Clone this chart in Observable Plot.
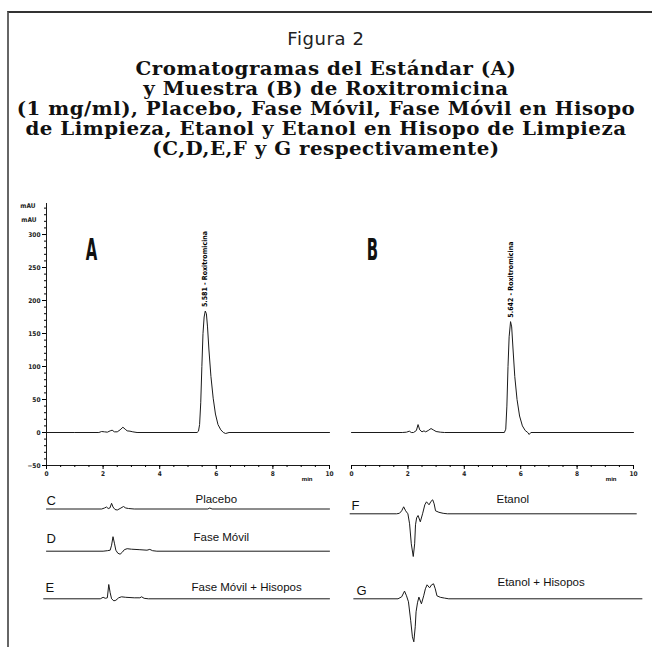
<!DOCTYPE html>
<html><head><meta charset="utf-8">
<script src="https://cdn.jsdelivr.net/npm/d3@7"></script>
<script src="https://cdn.jsdelivr.net/npm/@observablehq/plot@0.6"></script>
<style>
body{margin:0;background:#fff;}
#fig{position:relative;width:652px;height:647px;overflow:hidden;background:#fff;}
.frame{position:absolute;left:7px;top:11px;width:700px;height:700px;border-top:2px solid #333;border-left:2px solid #666;}
#title{position:absolute;left:0;top:27px;width:652px;text-align:center;font-family:"DejaVu Serif",serif;color:#111;}
#title .fig{font-size:18px;letter-spacing:0.6px;line-height:24px;font-family:"DejaVu Sans","Open Sans",sans-serif;font-weight:normal;color:#222;}
#title .main{font-weight:bold;font-size:18px;letter-spacing:0.45px;line-height:20px;margin-top:8px;transform:scaleX(1.1);transform-origin:50% 50%;}
.panel{position:absolute;line-height:0;}
.panel svg{overflow:visible;}
</style></head>
<body>
<div id="fig">
  <div class="frame"></div>
  <div id="title">
    <div class="fig">Figura 2</div>
    <div class="main">Cromatogramas del Estándar (A)<br>y Muestra (B) de Roxitromicina<br>(1 mg/ml), Placebo, Fase Móvil, Fase Móvil en Hisopo<br>de Limpieza, Etanol y Etanol en Hisopo de Limpieza<br>(C,D,E,F y G respectivamente)</div>
  </div>
</div>
<script>
// ---- Data: chromatograms [time (min), signal (mAU)] ----
const standardA = [[0,0],[1.0,0],[1.85,0],[1.95,1.5],[2.05,1],[2.15,0.5],[2.25,2.5],[2.32,3.5],[2.4,1],[2.5,1],[2.6,4],[2.7,8],[2.78,5],[2.85,2.5],[2.95,2],[3.05,1],[3.2,0],[5.32,0],[5.37,2],[5.41,12],[5.45,45],[5.49,100],[5.53,150],[5.57,175],[5.61,184],[5.65,180],[5.69,160],[5.74,125],[5.81,85],[5.89,52],[5.97,28],[6.06,12],[6.16,4],[6.25,0],[6.33,-1.5],[6.45,0],[10,0]];
const sampleB = [[0,0],[1.8,0],[1.95,0.5],[2.05,2],[2.12,0],[2.2,0],[2.3,3],[2.36,12],[2.42,4],[2.5,1],[2.57,2.5],[2.63,1],[2.72,3],[2.82,6],[2.9,4],[3.0,1.5],[3.15,0.5],[3.3,0],[5.42,0],[5.47,5],[5.51,40],[5.55,100],[5.59,145],[5.64,168],[5.68,160],[5.73,125],[5.79,85],[5.87,50],[5.96,25],[6.06,10],[6.16,3],[6.25,0],[6.3,-3],[6.36,0],[10,0]];
const peakA = [{t:5.581, v:184, label:"5.581 - Roxitromicina"}];
const peakB = [{t:5.642, v:168, label:"5.642 - Roxitromicina"}];
// small traces (relative signal units)
const placeboC = [[0,0],[1.95,0],[2.05,1],[2.12,2],[2.18,0.5],[2.24,1],[2.3,5.7],[2.35,2],[2.42,-0.5],[2.5,-1],[2.6,0.5],[2.72,2.5],[2.8,1],[2.9,0.5],[3.1,0],[5.7,0],[5.77,1],[5.85,0],[10,0]];
const mobileD = [[0,0],[2.0,0],[2.15,0.5],[2.25,1],[2.3,6],[2.35,14.5],[2.4,8],[2.45,1],[2.52,-2],[2.6,-3],[2.68,-1],[2.75,1.5],[2.85,2.5],[3.0,2],[3.3,1.5],[3.55,1],[3.65,1.8],[3.75,0.5],[3.9,0],[10,0]];
const mobileSwabE = [[-0.1,0],[1.9,0],[2.0,1.5],[2.08,0.5],[2.15,1],[2.2,14.3],[2.25,6],[2.3,0],[2.38,-2],[2.45,-1.5],[2.55,1],[2.65,2],[2.8,1.5],[3.1,1],[3.3,1],[3.36,2],[3.45,0.5],[3.6,0],[10,0]];
const ethanolF = [[-0.05,0],[1.6,0],[1.7,0.5],[1.78,3],[1.85,7],[1.92,3],[2.0,0],[2.06,-10],[2.12,-30],[2.19,-42.7],[2.24,-30],[2.27,-11],[2.31,-4],[2.36,-1.7],[2.44,-8],[2.52,0],[2.6,9],[2.66,12],[2.75,9],[2.82,12.5],[2.88,14],[2.93,10],[2.98,3],[3.1,1.5],[3.25,0.5],[3.4,0],[10.1,0]];
const ethanolSwabG = [[0.08,0],[1.65,0],[1.78,2],[1.88,7.7],[1.95,3],[2.02,-3],[2.1,-22],[2.16,-38],[2.21,-43],[2.26,-28],[2.29,-13],[2.34,-4],[2.39,1.7],[2.48,-5],[2.56,3],[2.62,10],[2.68,14],[2.77,11],[2.84,14],[2.91,15],[2.97,10],[3.03,3],[3.15,1.5],[3.3,0.7],[3.45,0],[10.3,0]];
// ticks
const xTicks = [0,2,4,6,8,10];
const xMinor = d3.range(0,10.01,0.5);
const yTicks = [-50,0,50,100,150,200,250,300];
const yMinor = d3.range(-50,341,10);

const fig = document.getElementById("fig");
function place(node, left, top){
  const d = document.createElement("div");
  d.className = "panel"; d.style.left = left+"px"; d.style.top = top+"px";
  d.appendChild(node); fig.appendChild(d);
}
const tickFont = {fontSize:6.5, fontFamily:"Liberation Sans Narrow, DejaVu Sans Condensed, Liberation Sans, sans-serif", fontWeight:"bold", fill:"#222"};
const ink = "#1a1a1a";

function condense(svg, txt, k){
  d3.select(svg).selectAll("text").filter(function(){ return this.textContent === txt; })
    .attr("transform", function(){ return (this.getAttribute("transform") || "") + ` scale(${k},1)`; });
}

function mainPanel(data, peak, letter, opts){
  const svg = Plot.plot({
    width: opts.width, height: 300,
    marginLeft: opts.mL, marginRight: opts.mR, marginTop: 13, marginBottom: 25,
    x: {domain:[0,10], label:null, axis:null}, y: {domain:[-50,347], label:null, axis:null},
    style: {background:"transparent", overflow:"visible"},
    marks: [
      ...(opts.yAxis ? [
        Plot.frame({anchor:"left", stroke:ink}),
        Plot.axisY({ticks:yTicks, tickSize:4, tickPadding:2, label:null, ...tickFont}),
        Plot.axisY({ticks:yMinor, tickSize:2, text:null, label:null}),
        Plot.text(["mAU"], {frameAnchor:"top-left", lineAnchor:"middle", dx:-11, dy:2, textAnchor:"end", ...tickFont}),
        Plot.text(["mAU"], {frameAnchor:"top-left", lineAnchor:"middle", dx:-10, dy:16, textAnchor:"end", ...tickFont})
      ] : []),
      Plot.frame({anchor:"bottom", stroke:ink}),
      Plot.axisX({ticks:xTicks, tickSize:4, tickPadding:2, label:null, ...tickFont}),
      Plot.axisX({ticks:xMinor, tickSize:2, text:null, label:null}),
      Plot.text(["min"], {frameAnchor:"bottom-right", lineAnchor:"middle", dx:-17, dy:14, fontSize:6, fontFamily:"Liberation Sans, sans-serif", fontWeight:"bold"}),
      Plot.text([letter], {frameAnchor:"top-left", lineAnchor:"middle", textAnchor:"middle", dx:opts.letterDx, dy:47, fontSize:30, fontWeight:"bold", fontFamily:"DejaVu Sans Condensed, Liberation Sans, sans-serif", fill:"#111"}),
      Plot.line(data, {stroke:ink, strokeWidth:1}),
      Plot.text(peak, {x:"t", y:"v", text:"label", rotate:-90, textAnchor:"start", dy:-4, fontSize:7, fontWeight:"bold", fontFamily:"Liberation Sans Narrow, DejaVu Sans Condensed, Liberation Sans, sans-serif"})
    ]
  });
  condense(svg, letter, 0.55);
  return svg;
}

place(mainPanel(standardA, peakA, "A", {width:345, mL:46, mR:16, yAxis:true, letterDx:45}), 0, 190);
place(mainPanel(sampleB, peakB, "B", {width:312, mL:11, mR:19, yAxis:false, letterDx:21}), 340, 190);

function trace(data, c){
  const up = c.baseline - c.top, down = c.top + c.height - c.baseline;
  return Plot.plot({
    width: c.width, height: c.height,
    marginLeft: c.mL, marginRight: c.mR, marginTop: 0, marginBottom: 0,
    x: {domain:[0,10], axis:null}, y: {domain:[-down, up], axis:null},
    style: {background:"transparent", overflow:"visible"},
    marks: [
      Plot.line(data, {stroke:ink, strokeWidth:1}),
      Plot.text([c.letter], {frameAnchor:"top-left", lineAnchor:"middle", dx:c.ldx, dy:c.ldy, textAnchor:"start", fontSize:13, fontFamily:"Liberation Sans, sans-serif", fill:"#111"}),
      Plot.text([c.title], {frameAnchor:"top-left", lineAnchor:"middle", dx:c.tdx, dy:c.tdy, textAnchor:"start", fontSize:11.5, fontFamily:"Liberation Sans, sans-serif", fill:"#111"})
    ]
  });
}
const L = {width:345, mL:46, mR:16}, R = {width:312, mL:11, mR:19};
place(trace(placeboC, {...L, top:488, height:40, baseline:508.5, letter:"C", ldx:0, ldy:12, title:"Placebo", tdx:149, tdy:11}), 0, 488);
place(trace(mobileD, {...L, top:528, height:40, baseline:550.7, letter:"D", ldx:0, ldy:10, title:"Fase Móvil", tdx:147, tdy:9}), 0, 528);
place(trace(mobileSwabE, {...L, top:572, height:45, baseline:598.3, letter:"E", ldx:-1, ldy:15, title:"Fase Móvil + Hisopos", tdx:145, tdy:15}), 0, 572);
place(trace(ethanolF, {...R, top:490, height:80, baseline:513.3, letter:"F", ldx:0, ldy:15, title:"Etanol", tdx:145, tdy:9}), 340, 490);
place(trace(ethanolSwabG, {...R, top:570, height:77, baseline:598.3, letter:"G", ldx:5, ldy:20, title:"Etanol + Hisopos", tdx:146, tdy:12}), 340, 570);
</script>
</body></html>
